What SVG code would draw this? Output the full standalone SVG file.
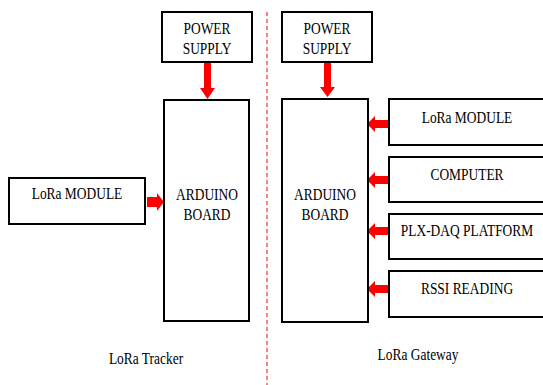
<svg xmlns="http://www.w3.org/2000/svg" width="543" height="385" viewBox="0 0 543 385">
<style>
.box{fill:#fff;stroke:#000;stroke-width:2}
.t{font-family:"Liberation Serif","Times New Roman",serif;font-size:14px;fill:#000;text-anchor:middle}
.arr{fill:#ff0000;stroke:none}
</style>
<rect width="543" height="385" fill="#fff"/>
<g id="divider">
<line x1="267" y1="12" x2="267" y2="385" stroke="#ff0000" stroke-width="1" stroke-dasharray="4,3"/>
</g>
<g id="connectors">
<polygon class="arr" points="204,62 211,62 211,88 215,88 207.5,99 200,88 204,88"/>
<polygon class="arr" points="147,197 157,197 157,193 164,202 157,211 157,207 147,207"/>
<polygon class="arr" points="324,62 331,62 331,87 335,87 327.5,97 320,87 324,87"/>
<polygon class="arr" points="389,120 375,120 375,116 367,124 375,132 375,128 389,128"/>
<polygon class="arr" points="389,176 375,176 375,172 367,180 375,188 375,184 389,184"/>
<polygon class="arr" points="389,227 375,227 375,223 367,231 375,239 375,235 389,235"/>
<polygon class="arr" points="389,285 375,285 375,281 367,289 375,297 375,293 389,293"/>
</g>
<g id="tracker-power">
<rect class="box" x="162" y="12" width="90" height="50"/>
<text class="t" transform="translate(207 34) scale(0.96 1.18)">POWER</text>
<text class="t" transform="translate(207 54) scale(0.96 1.18)">SUPPLY</text>
</g>
<g id="tracker-arduino">
<rect class="box" x="164" y="100" width="85" height="221"/>
<text class="t" transform="translate(207 200) scale(0.96 1.18)">ARDUINO</text>
<text class="t" transform="translate(207 220) scale(0.96 1.18)">BOARD</text>
</g>
<g id="tracker-lora">
<rect class="box" x="9" y="178" width="136" height="46"/>
<text class="t" transform="translate(77 199) scale(0.96 1.18)">LoRa MODULE</text>
</g>
<g id="gateway-power">
<rect class="box" x="282" y="12" width="90" height="50"/>
<text class="t" transform="translate(327 34) scale(0.96 1.18)">POWER</text>
<text class="t" transform="translate(327 54) scale(0.96 1.18)">SUPPLY</text>
</g>
<g id="gateway-arduino">
<rect class="box" x="282" y="99" width="86" height="223"/>
<text class="t" transform="translate(325 200) scale(0.96 1.18)">ARDUINO</text>
<text class="t" transform="translate(325 220) scale(0.96 1.18)">BOARD</text>
</g>
<g id="gateway-lora">
<rect class="box" x="389" y="99" width="170" height="46"/>
<text class="t" transform="translate(467 123) scale(0.96 1.18)">LoRa MODULE</text>
</g>
<g id="gateway-computer">
<rect class="box" x="389" y="157" width="170" height="45"/>
<text class="t" transform="translate(467 180) scale(0.96 1.18)">COMPUTER</text>
</g>
<g id="gateway-plx">
<rect class="box" x="389" y="214" width="170" height="45"/>
<text class="t" transform="translate(467 236) scale(0.96 1.18)">PLX-DAQ PLATFORM</text>
</g>
<g id="gateway-rssi">
<rect class="box" x="389" y="271" width="170" height="46"/>
<text class="t" transform="translate(467 294) scale(0.96 1.18)">RSSI READING</text>
</g>
<g id="labels">
<text class="t" transform="translate(146 364) scale(0.96 1.18)">LoRa Tracker</text>
<text class="t" transform="translate(418 360) scale(0.96 1.18)">LoRa Gateway</text>
</g>
</svg>
